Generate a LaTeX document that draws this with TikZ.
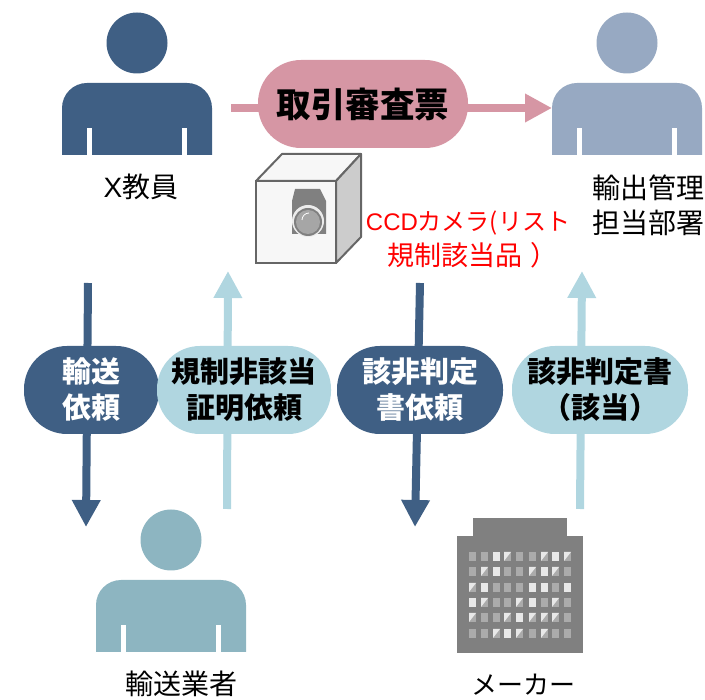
\documentclass[tikz,border=0pt]{standalone}
\usepackage{fontspec}
\setmainfont{Noto Sans CJK JP}
\newfontfamily\latinfont{Liberation Sans}
\usetikzlibrary{positioning, arrows.meta}
\definecolor{navy}{HTML}{3F5F84}
\definecolor{rose}{HTML}{D696A4}
\definecolor{haze}{HTML}{97A9C2}
\definecolor{teal2}{HTML}{8DB5C1}
\definecolor{sky}{HTML}{B0D6E0}
\definecolor{steel}{HTML}{808080}
\definecolor{pane}{HTML}{ABABAB}
\definecolor{glass}{HTML}{E8E8E8}
\definecolor{boxline}{HTML}{666666}
\begin{document}
\begin{tikzpicture}[
            x=1pt, y=-1pt,
            caption/.style={font=\fontsize{28}{35}\selectfont, align=center, inner sep=0pt},
            pill/.style={rounded corners=43pt, minimum height=88pt, inner sep=0pt, align=center, font=\fontsize{29}{36}\selectfont\bfseries},
            flow/.style={line width=8pt, -{Triangle[length=27pt, width=27pt]}},
            person/.pic={
                \fill (0,-112) circle (30.5);
                \fill (-75,0) [rounded corners=25pt] -- (-75,-72) -- (75,-72) [sharp corners] -- (75,0) -- cycle;
                \fill[white] (-50,0) rectangle (-45,-27);
                \fill[white] (45,0) rectangle (50,-27);
            }
        ]
            \useasboundingbox (0,0) rectangle (705,700);

            % --- People ---
            \pic[navy] (teacher) at (137,155) {person};
            \pic[haze] (office) at (627,155) {person};
            \pic[teal2] (carrier) at (171,652) {person};
            \node[caption] (teacher_label) at (141,187) {{\latinfont X}教員};
            \node[caption] (office_label) at (648,205) {輸出管理\\担当部署};
            \node[caption] (carrier_label) at (181,684) {輸送業者};
            \node[caption, font=\fontsize{26}{35}\selectfont] (maker_label) at (523,685) {メーカー};

            % --- Arrow ends ---
            \coordinate (review_start) at (231,108);
            \coordinate (review_end) at (552,108);
            \coordinate (carry_start) at (88,283);
            \coordinate (carry_end) at (86,527);
            \coordinate (proof_start) at (227,509);
            \coordinate (proof_end) at (228,271);
            \coordinate (ask_start) at (420,283);
            \coordinate (ask_end) at (415,527);
            \coordinate (reply_start) at (580,509);
            \coordinate (reply_end) at (582,271);

            % --- Arrows ---
            \draw[flow, rose] (review_start) -- (review_end);
            \draw[flow, navy] (carry_start) -- (carry_end);
            \draw[flow, sky] (proof_start) -- (proof_end);
            \draw[flow, navy] (ask_start) -- (ask_end);
            \draw[flow, sky] (reply_start) -- (reply_end);

            % --- Pills ---
            \node[pill, fill=rose, minimum width=210pt, font=\fontsize{34.5}{37}\selectfont\bfseries] (review) at (363,104) {取引審査票};
            \node[pill, fill=navy, text=white, minimum width=135pt] (carry) at (91.5,390) {輸送\\依頼};
            \node[pill, fill=sky, minimum width=174pt] (proof) at (244,390) {規制非該当\\証明依頼};
            \node[pill, fill=navy, text=white, minimum width=166pt] (ask) at (420,390) {該非判定\\書依頼};
            \node[pill, fill=sky, minimum width=176pt] (reply) at (600,390) {該非判定書\\（該当）};

            % --- Camera in its box ---
            \draw[boxline, line width=2pt, line join=round, fill=black!3] (256,181) -- (282,154) -- (361,154) -- (336,181) -- cycle;
            \draw[boxline, line width=2pt, line join=round, fill=black!20] (336,181) -- (361,154) -- (361,237) -- (336,263) -- cycle;
            \draw[boxline, line width=2pt, fill=black!3] (256,181) rectangle (336,263);
            \fill[steel] (295,189) -- (320,189) -- (326,201) -- (326,234) -- (292,234) -- (292,201) -- cycle;
            \fill[white!85!steel] (308,221) circle (16);
            \fill[steel] (308,222) circle (14);
            \fill[black!35] (308,222) circle (12);
            \draw[white, line width=0.8pt] (302,220) arc[start angle=180, end angle=270, radius=7];
            \node[caption, text=red, font=\fontsize{24}{35}\selectfont] (camera_label) at (468,239) {{\latinfont CCD}カメラ(リスト\\{\fontsize{27}{35}\selectfont\hspace*{9pt}規制該当品\hspace{9pt}）}};

            % --- Maker building ---
            \fill[steel] (473,518) rectangle (567,536);
            \fill[steel] (457,536) rectangle (583,653);
            \foreach \wy [count=\row] in {552,567,583,598,613,629} {
                \foreach \wx [count=\col] in {469,481,493,504,516,529,541,552,564} {
                    \fill[pane] (\wx,\wy) rectangle +(7,9);
                }
            }
            \foreach \wx/\wy in {493/552,552/552,493/567,541/567,481/583,529/583,541/583,564/583,469/598,529/598,516/613,504/629} {
                \fill[glass] (\wx,\wy) rectangle +(7,9);
            }
            \foreach \wx/\wy in {504/552,541/552,564/552,481/567,529/567,552/567,469/583,481/598,516/598,552/598,469/613,504/613,529/613,541/613,552/613,493/629,516/629,541/629} {
                \fill[glass] (\wx,\wy+9) -- +(7,-9) -- +(0,-9) -- cycle;
            }
        \end{tikzpicture}
\end{document}
